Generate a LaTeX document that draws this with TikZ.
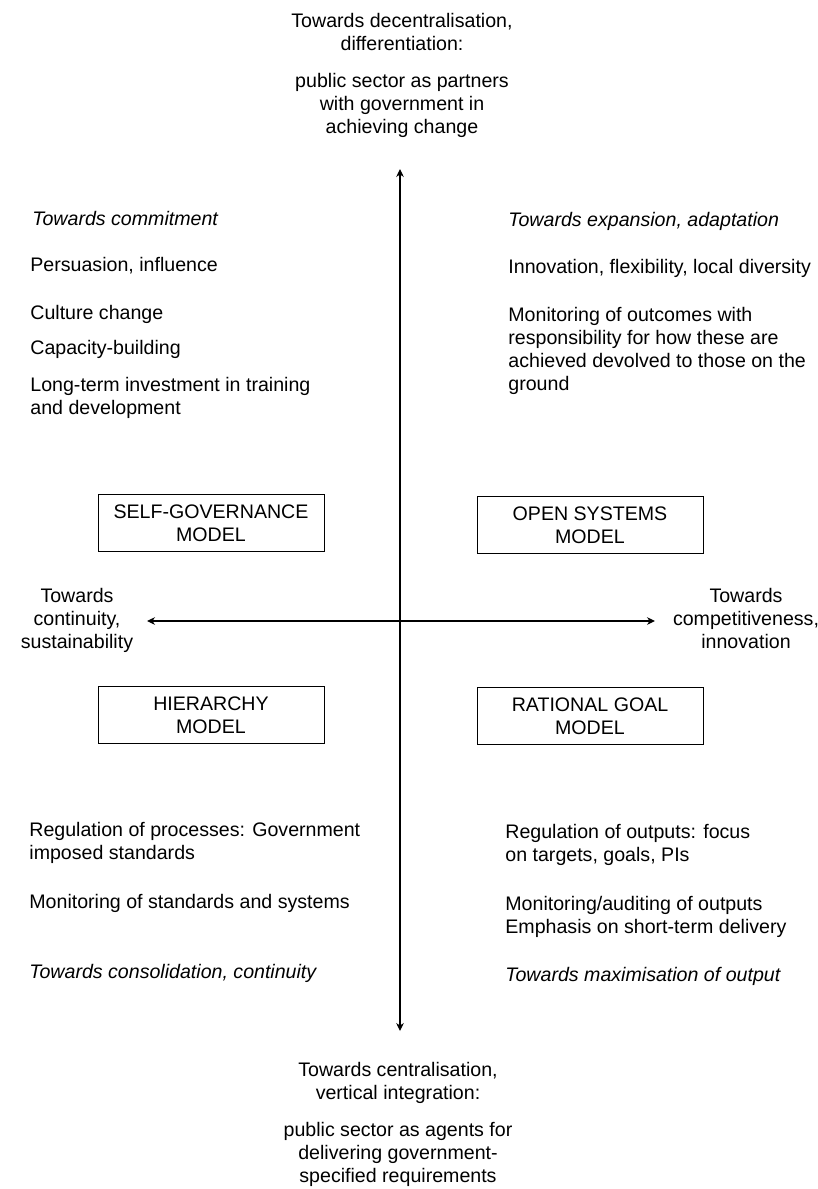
\documentclass[tikz,border=0pt]{standalone}
\usepackage{fontspec}
\setmainfont{Liberation Sans}
\usetikzlibrary{arrows.meta}
\tikzset{
  txt/.style={font=\fontsize{9.8}{11.5}\selectfont, inner sep=0pt, align=left, anchor=north west},
  slant/.style={txt, font=\fontsize{9.8}{11.5}\selectfont\itshape},
  ctxt/.style={txt, align=center, anchor=north},
  model/.style={draw, line width=0.5pt, minimum width=113pt, minimum height=28.5pt,
    align=center, inner sep=0pt, font=\fontsize{9.8}{11.5}\selectfont},
  axis/.style={{Stealth[length=4pt,width=3.8pt]}-{Stealth[length=4pt,width=3.8pt]}, line width=0.6pt}
}

\begin{document}
\begin{tikzpicture}[x=0.5pt,y=-0.5pt]
  \useasboundingbox (0,0) rectangle (818,1189);

  % ends of the two axes
  \coordinate (north) at (400,169);
  \coordinate (south) at (400,1031);
  \coordinate (west) at (147,621);
  \coordinate (east) at (655,621);
  \draw[axis] (south) -- (north);
  \draw[axis] (west) -- (east);

  % top and bottom poles
  \node[ctxt] (decA) at (402,13) {Towards decentralisation,\\differentiation:};
  \node[ctxt] (decB) at (402,73) {public sector as partners\\with government in\\achieving change};
  \node[ctxt] (cenA) at (398,1062) {Towards centralisation,\\vertical integration:};
  \node[ctxt] (cenB) at (398,1122) {public sector as agents for\\delivering government-\\specified requirements};

  % left and right poles
  \node[ctxt] (contin) at (77,588) {Towards\\continuity,\\sustainability};
  \node[ctxt] (compet) at (746,588) {Towards\\competitiveness,\\innovation};

  % the four models
  \node[model] (selfgov) at (211,523) {SELF-GOVERNANCE\\MODEL};
  \node[model] (opensys) at (590,525) {OPEN SYSTEMS\\MODEL};
  \node[model] (hier) at (211,715) {HIERARCHY\\MODEL};
  \node[model] (ratgoal) at (590,716) {RATIONAL GOAL\\MODEL};

  % upper left
  \node[slant] (sgA) at (32,211) {Towards commitment};
  \node[txt] (sgB) at (30,257) {Persuasion, influence};
  \node[txt] (sgC) at (30,305) {Culture change};
  \node[txt] (sgD) at (30,340) {Capacity-building};
  \node[txt] (sgE) at (30,377) {Long-term investment in training\\and development};

  % upper right
  \node[slant] (osA) at (508,212) {Towards expansion, adaptation};
  \node[txt] (osB) at (508,259) {Innovation, flexibility, local diversity};
  \node[txt] (osC) at (508,307) {Monitoring of outcomes with\\responsibility for how these are\\achieved devolved to those on the\\ground};

  % lower left
  \node[txt] (hiA) at (29,822) {Regulation of processes: Government\\imposed standards};
  \node[txt] (hiB) at (29,894) {Monitoring of standards and systems};
  \node[slant] (hiC) at (29,964) {Towards consolidation, continuity};

  % lower right
  \node[txt] (rgA) at (505,824) {Regulation of outputs: focus\\on targets, goals, PIs};
  \node[txt] (rgB) at (505,896) {Monitoring/auditing of outputs\\Emphasis on short-term delivery};
  \node[slant] (rgC) at (505,967) {Towards maximisation of output};
\end{tikzpicture}
\end{document}
